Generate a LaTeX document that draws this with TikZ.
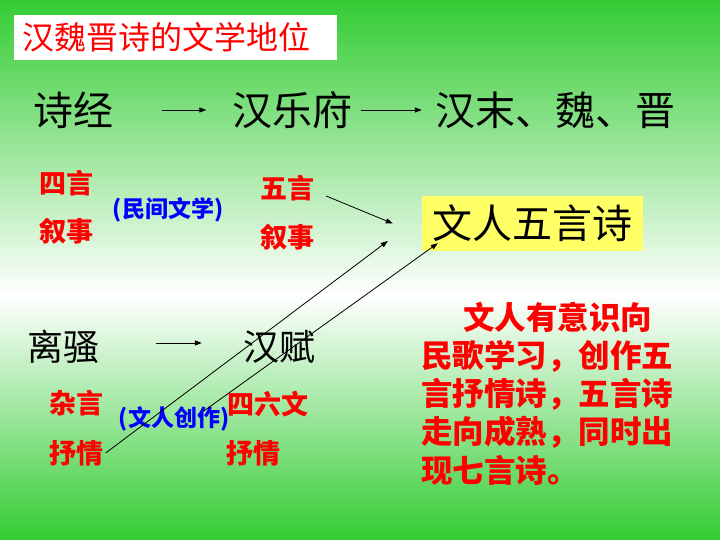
\documentclass[tikz,border=0pt]{standalone}
\usepackage{fontspec}
\newfontfamily\cjk{Noto Sans CJK SC}
\usetikzlibrary{arrows.meta}

\definecolor{lvse}{RGB}{51,204,51}
\definecolor{hongse}{RGB}{255,0,0}
\definecolor{lanse}{RGB}{0,0,255}
\definecolor{huangse}{RGB}{255,255,102}

\tikzset{
	heizi/.style={text=black, inner sep=2pt, font=\cjk\fontsize{40pt}{44pt}\selectfont},
	hongzi/.style={text=hongse, inner sep=2pt, font=\cjk\bfseries\fontsize{27pt}{30pt}\selectfont},
	lanzi/.style={text=lanse, inner sep=2pt, font=\cjk\bfseries\fontsize{23pt}{26pt}\selectfont},
	jiantou/.style={-{Triangle[length=7pt,width=5pt]}, line width=0.8pt}
}

\begin{document}
\begin{tikzpicture}[x=1pt,y=-1pt]
	\useasboundingbox (0,0) rectangle (720,540);
	
	% fondo
	\fill[top color=lvse, bottom color=white] (0,0) rectangle (720,295);
	\fill[top color=white, bottom color=lvse] (0,295) rectangle (720,540);
	
	\draw (14,15) node[anchor=north west, fill=white, minimum width=323pt, minimum height=45pt, text width=307pt, inner xsep=8pt, align=left, text=hongse, font=\cjk\fontsize{32pt}{36pt}\selectfont] (biaoti)
	{
		汉魏晋诗的文学地位
	};
	
	\draw (73.5,110) node[heizi] (shijing) {诗经};
	\draw (292.5,110) node[heizi] (yuefu) {汉乐府};
	\draw (555,110) node[heizi] (weijin) {汉末、魏、晋};
	
	\draw [jiantou, shorten <=46pt, shorten >=24pt] (shijing) -- (yuefu);
	\draw [jiantou, shorten <=6pt, shorten >=11pt] (yuefu) -- (weijin);
	
	\draw (66,183) node[hongzi] (siyan) {四言};
	\draw (66,231) node[hongzi] (xushiA) {叙事};
	\draw (168,210) node[lanzi] (minjian) {(民间文学)};
	\draw (287,188) node[hongzi] (wuyan) {五言};
	\draw (287,237) node[hongzi] (xushiB) {叙事};
	
	\draw (532.5,223.5) node[heizi, fill=huangse, minimum width=221pt, minimum height=55pt] (wenren)
	{
		文人五言诗
	};
	
	\draw (63.5,347) node[heizi, font=\cjk\fontsize{36pt}{40pt}\selectfont] (lisao) {离骚};
	\draw (279,347) node[heizi, font=\cjk\fontsize{36pt}{40pt}\selectfont] (hanfu) {汉赋};
	\draw [jiantou, shorten <=54pt, shorten >=39pt] ([yshift=4pt]lisao.east) -- ([yshift=4pt]hanfu.west);
	
	\draw (76.5,403) node[hongzi] (zayan) {杂言};
	\draw (76.5,453) node[hongzi] (shuqingA) {抒情};
	\draw (174,419) node[lanzi] (chuangzuo) {(文人创作)};
	\draw (268,404) node[hongzi] (siliuwen) {四六文};
	\draw (253.5,453) node[hongzi] (shuqingB) {抒情};
	
	\draw [jiantou] ([xshift=10pt,yshift=-8pt]wuyan.east) -- ([xshift=-29pt]wenren.west);
	\draw [jiantou] (shuqingA.east) -- ([xshift=-34pt,yshift=-17.5pt]wenren.west);
	\draw [jiantou] ([xshift=-21.5pt,yshift=-7pt]siliuwen.west) -- ([xshift=16pt,yshift=8pt]wenren.south west);
	
	\draw (419,393.5) node[anchor=west, align=left, text=hongse, inner sep=2pt, font=\cjk\bfseries\fontsize{31.5pt}{38.3pt}\selectfont] (shuoming)
	{
		\hspace*{42pt}文人有意识向\\
		民歌学习，创作五\\
		言抒情诗，五言诗\\
		走向成熟，同时出\\
		现七言诗。
	};
\end{tikzpicture}
\end{document}
